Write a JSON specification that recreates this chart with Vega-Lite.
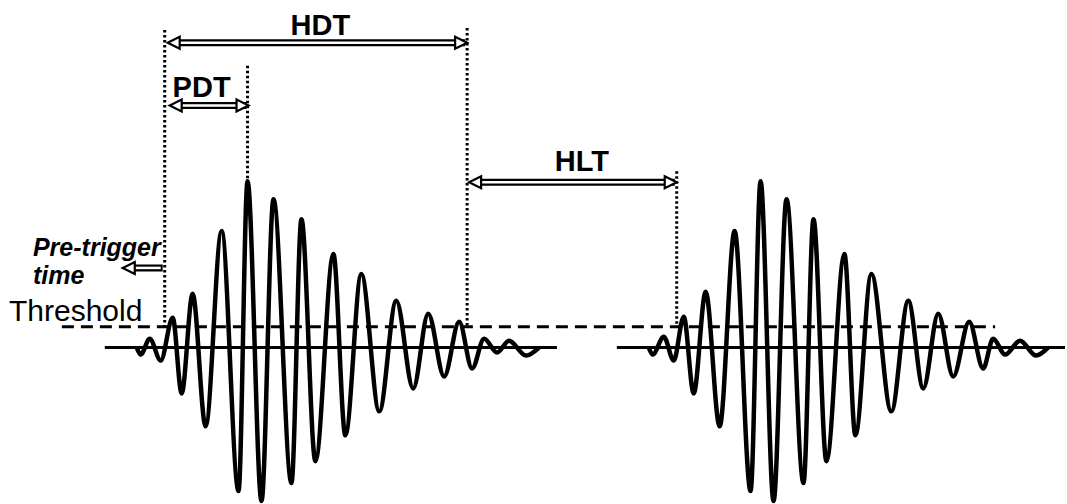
{
  "$schema": "https://vega.github.io/schema/vega-lite/v6.json",
  "width": 1067,
  "height": 504,
  "padding": 0,
  "autosize": {"type": "fit", "contains": "padding"},
  "background": "white",
  "config": {"view": {"stroke": null}},
  "datasets": {
    "wave": [
      {"burst": "A", "t": 137, "v": 349}, {"burst": "A", "t": 141, "v": 356}, {"burst": "A", "t": 150, "v": 340},
      {"burst": "A", "t": 161, "v": 362}, {"burst": "A", "t": 173, "v": 319}, {"burst": "A", "t": 182, "v": 395},
      {"burst": "A", "t": 193, "v": 295}, {"burst": "A", "t": 206, "v": 428}, {"burst": "A", "t": 222, "v": 232},
      {"burst": "A", "t": 239, "v": 493}, {"burst": "A", "t": 248, "v": 182}, {"burst": "A", "t": 262, "v": 503},
      {"burst": "A", "t": 274, "v": 200}, {"burst": "A", "t": 292, "v": 485}, {"burst": "A", "t": 302, "v": 220},
      {"burst": "A", "t": 316, "v": 463}, {"burst": "A", "t": 334, "v": 255}, {"burst": "A", "t": 346, "v": 437},
      {"burst": "A", "t": 362, "v": 275}, {"burst": "A", "t": 380, "v": 413}, {"burst": "A", "t": 397, "v": 302},
      {"burst": "A", "t": 414, "v": 390}, {"burst": "A", "t": 429, "v": 315}, {"burst": "A", "t": 445, "v": 378},
      {"burst": "A", "t": 460, "v": 323}, {"burst": "A", "t": 473, "v": 370}, {"burst": "A", "t": 485, "v": 340},
      {"burst": "A", "t": 498, "v": 354}, {"burst": "A", "t": 510, "v": 342}, {"burst": "A", "t": 527, "v": 357},
      {"burst": "A", "t": 540, "v": 349},
      {"burst": "B", "t": 650, "v": 349}, {"burst": "B", "t": 654, "v": 356}, {"burst": "B", "t": 665, "v": 338},
      {"burst": "B", "t": 675, "v": 362}, {"burst": "B", "t": 685, "v": 318}, {"burst": "B", "t": 695, "v": 395},
      {"burst": "B", "t": 707, "v": 293}, {"burst": "B", "t": 721, "v": 428}, {"burst": "B", "t": 736, "v": 232},
      {"burst": "B", "t": 752, "v": 493}, {"burst": "B", "t": 762, "v": 182}, {"burst": "B", "t": 775, "v": 503},
      {"burst": "B", "t": 788, "v": 200}, {"burst": "B", "t": 805, "v": 485}, {"burst": "B", "t": 815, "v": 220},
      {"burst": "B", "t": 828, "v": 463}, {"burst": "B", "t": 846, "v": 255}, {"burst": "B", "t": 857, "v": 437},
      {"burst": "B", "t": 873, "v": 275}, {"burst": "B", "t": 893, "v": 413}, {"burst": "B", "t": 910, "v": 302},
      {"burst": "B", "t": 925, "v": 390}, {"burst": "B", "t": 940, "v": 315}, {"burst": "B", "t": 955, "v": 378},
      {"burst": "B", "t": 971, "v": 323}, {"burst": "B", "t": 985, "v": 370}, {"burst": "B", "t": 995, "v": 340},
      {"burst": "B", "t": 1007, "v": 356}, {"burst": "B", "t": 1022, "v": 342}, {"burst": "B", "t": 1038, "v": 357},
      {"burst": "B", "t": 1050, "v": 349}
    ],
    "levels": [
      {"kind": "threshold", "t1": 62, "t2": 997, "v": 328},
      {"kind": "zero", "t1": 105, "t2": 558, "v": 349},
      {"kind": "zero", "t1": 618, "t2": 1067, "v": 349}
    ],
    "markers": [
      {"name": "trigger", "t": 165, "v1": 30, "v2": 328},
      {"name": "peak", "t": 248, "v1": 66, "v2": 182},
      {"name": "hit end", "t": 468, "v1": 28, "v2": 327},
      {"name": "next trigger", "t": 678, "v1": 172, "v2": 327}
    ],
    "spans": [
      {"name": "HDT", "t1": 168, "t2": 468, "v": 43, "ends": "both"},
      {"name": "PDT", "t1": 170, "t2": 249, "v": 106, "ends": "both"},
      {"name": "HLT", "t1": 470, "t2": 678, "v": 183, "ends": "both"},
      {"name": "Pre-trigger", "t1": 123, "t2": 165, "v": 269, "ends": "start"}
    ],
    "titles": [
      {"text": "HDT", "t": 321, "v": 35},
      {"text": "PDT", "t": 202, "v": 97},
      {"text": "HLT", "t": 583, "v": 172}
    ],
    "notes": [
      {"text": "Pre-trigger", "t": 33, "v": 257},
      {"text": "time", "t": 33, "v": 285}
    ],
    "axisName": [
      {"text": "Threshold", "t": 9, "v": 322}
    ]
  },
  "encoding": {
    "x": {"type": "quantitative", "scale": {"domain": [0, 1067]}, "axis": null},
    "y": {"type": "quantitative", "scale": {"domain": [0, 504], "reverse": true}, "axis": null}
  },
  "layer": [
    {
      "data": {"name": "levels"},
      "transform": [{"filter": "datum.kind == 'threshold'"}],
      "mark": {"type": "rule", "color": "black", "strokeWidth": 3, "strokeDash": [12, 7]},
      "encoding": {"x": {"field": "t1"}, "x2": {"field": "t2"}, "y": {"field": "v"}}
    },
    {
      "data": {"name": "levels"},
      "transform": [{"filter": "datum.kind == 'zero'"}],
      "mark": {"type": "rule", "color": "black", "strokeWidth": 3},
      "encoding": {"x": {"field": "t1"}, "x2": {"field": "t2"}, "y": {"field": "v"}}
    },
    {
      "data": {"name": "markers"},
      "mark": {"type": "rule", "color": "black", "strokeWidth": 3, "strokeDash": [2.5, 2.5]},
      "encoding": {"x": {"field": "t"}, "y": {"field": "v1"}, "y2": {"field": "v2"}}
    },
    {
      "data": {"name": "wave"},
      "mark": {"type": "line", "color": "black", "strokeWidth": 4.5, "interpolate": "monotone", "strokeJoin": "round"},
      "encoding": {"x": {"field": "t"}, "y": {"field": "v"}, "detail": {"field": "burst"}}
    },
    {
      "data": {"name": "spans"},
      "mark": {"type": "rule", "color": "black", "strokeWidth": 7, "xOffset": 8, "x2Offset": -2},
      "encoding": {"x": {"field": "t1"}, "x2": {"field": "t2"}, "y": {"field": "v"}}
    },
    {
      "data": {"name": "spans"},
      "mark": {"type": "rule", "color": "white", "strokeWidth": 2.5, "xOffset": 8, "x2Offset": -4},
      "encoding": {"x": {"field": "t1"}, "x2": {"field": "t2"}, "y": {"field": "v"}}
    },
    {
      "data": {"name": "spans"},
      "mark": {"type": "point", "shape": "M0,0L2,-1L2,1Z", "size": 144, "filled": true, "fill": "white", "stroke": "black", "strokeWidth": 2.2, "opacity": 1},
      "encoding": {"x": {"field": "t1"}, "y": {"field": "v"}}
    },
    {
      "data": {"name": "spans"},
      "transform": [{"filter": "datum.ends == 'both'"}],
      "mark": {"type": "point", "shape": "M0,0L-2,-1L-2,1Z", "size": 144, "filled": true, "fill": "white", "stroke": "black", "strokeWidth": 2.2, "opacity": 1},
      "encoding": {"x": {"field": "t2"}, "y": {"field": "v"}}
    },
    {
      "data": {"name": "titles"},
      "mark": {"type": "text", "font": "Liberation Sans", "fontWeight": "bold", "fontSize": 29, "align": "center", "baseline": "alphabetic", "color": "black"},
      "encoding": {"x": {"field": "t"}, "y": {"field": "v"}, "text": {"field": "text"}}
    },
    {
      "data": {"name": "notes"},
      "mark": {"type": "text", "font": "Liberation Sans", "fontWeight": "bold", "fontStyle": "italic", "fontSize": 25, "align": "left", "baseline": "alphabetic", "color": "black"},
      "encoding": {"x": {"field": "t"}, "y": {"field": "v"}, "text": {"field": "text"}}
    },
    {
      "data": {"name": "axisName"},
      "mark": {"type": "text", "font": "Liberation Sans", "fontSize": 30, "align": "left", "baseline": "alphabetic", "color": "black"},
      "encoding": {"x": {"field": "t"}, "y": {"field": "v"}, "text": {"field": "text"}}
    }
  ]
}
